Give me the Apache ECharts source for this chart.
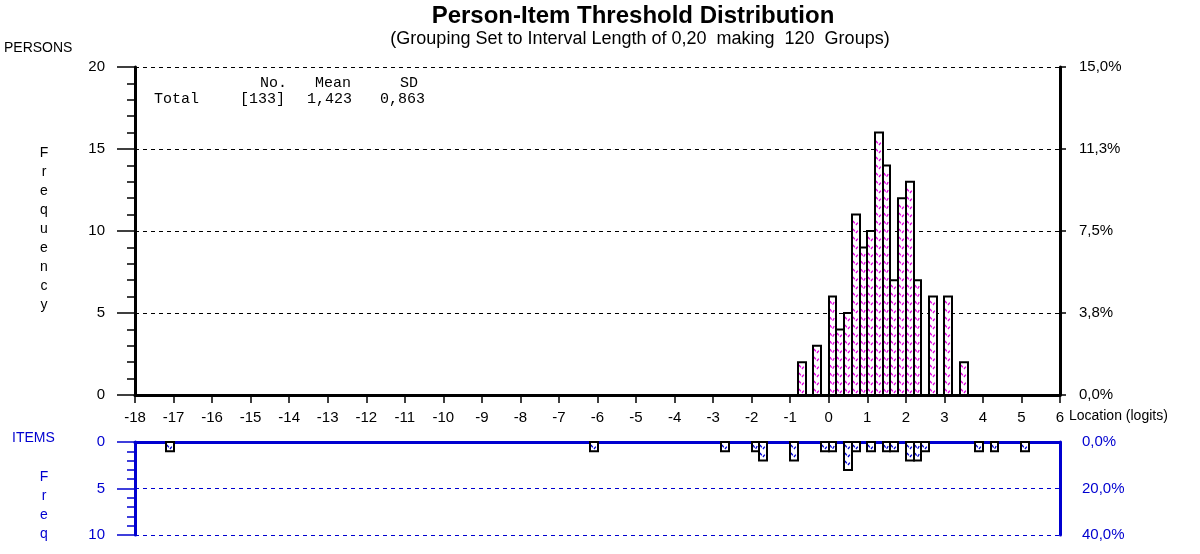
<!DOCTYPE html>
<html>
<head>
<meta charset="utf-8">
<script src="https://cdn.jsdelivr.net/npm/echarts@6/dist/echarts.min.js"></script>
<style>
html,body{margin:0;padding:0;background:#fff;}
#chart{width:1200px;height:554px;}
</style>
</head>
<body>
<div id="chart"></div>
<script>
// ---- data ----
const BIN_WIDTH = 0.2;
const personBinStarts = [-0.8, -0.4, 0.0, 0.2, 0.4, 0.6, 0.8, 1.0, 1.2, 1.4, 1.6, 1.8, 2.0, 2.2, 2.6, 3.0, 3.4];
const personCounts    = [2, 3, 6, 4, 5, 11, 9, 10, 16, 14, 7, 12, 13, 7, 6, 6, 2];
const itemBinStarts = [-17.2, -6.2, -2.8, -2.0, -1.8, -1.0, -0.2, 0.0, 0.4, 0.6, 1.0, 1.4, 1.6, 2.0, 2.2, 2.4, 3.8, 4.2, 5.0];
const itemCounts    = [1, 1, 1, 1, 2, 2, 1, 1, 3, 1, 1, 1, 1, 2, 2, 1, 1, 1, 1];
const personPctLabels = ['0,0%', '3,8%', '7,5%', '11,3%', '15,0%'];
const itemPctLabels = ['0,0%', '20,0%', '40,0%'];
const statsHeader = ['No.', 'Mean', 'SD'];
const statsRow = ['Total', '[133]', '1,423', '0,863'];
const titleText = 'Person-Item Threshold Distribution';
const subtitleText = '(Grouping Set to Interval Length of 0,20  making  120  Groups)';

const BLUE = '#0000d0';
const MAGENTA = '#e000e0';
const SANS = "'Liberation Sans', Arial, sans-serif";
const MONO = "'Liberation Mono', 'Courier New', monospace";

const chart = echarts.init(document.getElementById('chart'), null, {renderer: 'canvas'});

function makeRender(hatchColor, fromTop) {
  return function (params, api) {
    const x0 = api.value(0), n = api.value(1);
    const a = api.coord([x0, 0]);
    const b = api.coord([x0 + BIN_WIDTH, n]);
    const left = Math.round(a[0]), right = Math.round(b[0]);
    const top = Math.min(a[1], b[1]), bottom = Math.max(a[1], b[1]);
    const children = [{
      type: 'rect',
      shape: {x: left, y: top, width: right - left, height: bottom - top},
      style: {fill: '#fff', stroke: 'none'}
    }];
    const xc = (left + right) / 2, d = 4, P = 8;
    const hs = {stroke: hatchColor, lineWidth: 1.3, lineDash: [3, 2], fill: null};
    if (fromTop) {
      for (let y = top + d + 3; y + 1 < bottom; y += P) {
        children.push({type: 'polyline', shape: {points: [[left + 1, y - d], [xc, y], [right - 1, y - d]]}, style: hs});
      }
    } else {
      for (let y = bottom - 2; y - d - 1 > top; y -= P) {
        children.push({type: 'polyline', shape: {points: [[left + 1, y - d], [xc, y], [right - 1, y - d]]}, style: hs});
      }
    }
    children.push({
      type: 'rect',
      shape: {x: left, y: top, width: right - left, height: bottom - top},
      style: {fill: 'none', stroke: '#000', lineWidth: 2}
    });
    return {type: 'group', children: children};
  };
}

const graphics = [
  {type: 'text', x: 633, y: 4, style: {text: titleText, font: "bold 24px " + SANS, fill: '#000', align: 'center'}},
  {type: 'text', x: 640, y: 30, style: {text: subtitleText, font: "18px " + SANS, fill: '#000', align: 'center'}},
  {type: 'text', x: 4, y: 41, style: {text: 'PERSONS', font: "14px " + SANS, fill: '#000'}},
  {type: 'text', x: 44, y: 144, style: {text: 'F\nr\ne\nq\nu\ne\nn\nc\ny', font: "14px " + SANS, fill: '#000', align: 'center', lineHeight: 19}},
  {type: 'text', x: 1069, y: 409, style: {text: 'Location (logits)', font: "14px " + SANS, fill: '#000'}},
  {type: 'text', x: 12, y: 431, style: {text: 'ITEMS', font: "14px " + SANS, fill: BLUE}},
  {type: 'text', x: 44, y: 468, style: {text: 'F\nr\ne\nq', font: "14px " + SANS, fill: BLUE, align: 'center', lineHeight: 19}}
];
const headerX = [260, 315, 400];
statsHeader.forEach((t, i) => graphics.push({type: 'text', x: headerX[i], y: 76, style: {text: t, font: "15px " + MONO, fill: '#000'}}));
const rowX = [154, 240, 307, 380];
statsRow.forEach((t, i) => graphics.push({type: 'text', x: rowX[i], y: 92, style: {text: t, font: "15px " + MONO, fill: '#000'}}));

const option = {
  animation: false,
  backgroundColor: '#fff',
  textStyle: {fontFamily: SANS},
  grid: [
    {left: 135, top: 67, width: 925, height: 328},
    {left: 135, top: 442, width: 925, height: 93}
  ],
  xAxis: [
    {gridIndex: 0, type: 'value', min: -18, max: 6, interval: 1, position: 'bottom',
      axisLine: {show: true, onZero: false, lineStyle: {color: '#000', width: 3}},
      axisTick: {show: true, length: 8, lineStyle: {color: '#000', width: 1.5}},
      axisLabel: {color: '#000', fontSize: 15, margin: 15, fontFamily: SANS},
      splitLine: {show: false}},
    {gridIndex: 1, type: 'value', min: -18, max: 6, interval: 1, position: 'top',
      axisLine: {show: true, onZero: false, lineStyle: {color: BLUE, width: 3}},
      axisTick: {show: false}, axisLabel: {show: false}, splitLine: {show: false}}
  ],
  yAxis: [
    {gridIndex: 0, type: 'value', min: 0, max: 20, interval: 5, position: 'left',
      axisLine: {show: true, onZero: false, lineStyle: {color: '#000', width: 3}},
      axisTick: {show: true, length: 18, lineStyle: {color: '#000', width: 1.5}},
      minorTick: {show: true, splitNumber: 5, length: 8, lineStyle: {color: '#000', width: 1.5}},
      axisLabel: {color: '#000', fontSize: 15, margin: 30, fontFamily: SANS},
      splitLine: {show: true, lineStyle: {color: '#000', type: [4, 4], width: 1}}},
    {gridIndex: 0, type: 'value', min: 0, max: 20, interval: 5, position: 'right',
      axisLine: {show: true, onZero: false, lineStyle: {color: '#000', width: 3}},
      axisTick: {show: true, length: 6, lineStyle: {color: '#000', width: 1.5}},
      axisLabel: {color: '#000', fontSize: 15, margin: 19, fontFamily: SANS,
        formatter: (v) => personPctLabels[Math.round(v / 5)]},
      splitLine: {show: false}},
    {gridIndex: 1, type: 'value', min: 0, max: 10, interval: 5, position: 'left', inverse: true,
      axisLine: {show: true, onZero: false, lineStyle: {color: BLUE, width: 3}},
      axisTick: {show: true, length: 18, lineStyle: {color: BLUE, width: 1.5}},
      minorTick: {show: true, splitNumber: 5, length: 8, lineStyle: {color: BLUE, width: 1.5}},
      axisLabel: {color: BLUE, fontSize: 15, margin: 30, fontFamily: SANS},
      splitLine: {show: true, lineStyle: {color: BLUE, type: [4, 4], width: 1}}},
    {gridIndex: 1, type: 'value', min: 0, max: 10, interval: 5, position: 'right', inverse: true,
      axisLine: {show: true, onZero: false, lineStyle: {color: BLUE, width: 3}},
      axisTick: {show: false},
      axisLabel: {color: BLUE, fontSize: 15, margin: 22, fontFamily: SANS,
        formatter: (v) => itemPctLabels[Math.round(v / 5)]},
      splitLine: {show: false}}
  ],
  series: [
    {type: 'custom', name: 'Persons', xAxisIndex: 0, yAxisIndex: 0,
      renderItem: makeRender(MAGENTA, false),
      data: personBinStarts.map((x, i) => [x, personCounts[i]]), z: 5},
    {type: 'custom', name: 'Items', xAxisIndex: 1, yAxisIndex: 2,
      renderItem: makeRender(BLUE, true),
      data: itemBinStarts.map((x, i) => [x, itemCounts[i]]), z: 5}
  ],
  graphic: graphics
};
chart.setOption(option);
</script>
</body>
</html>
